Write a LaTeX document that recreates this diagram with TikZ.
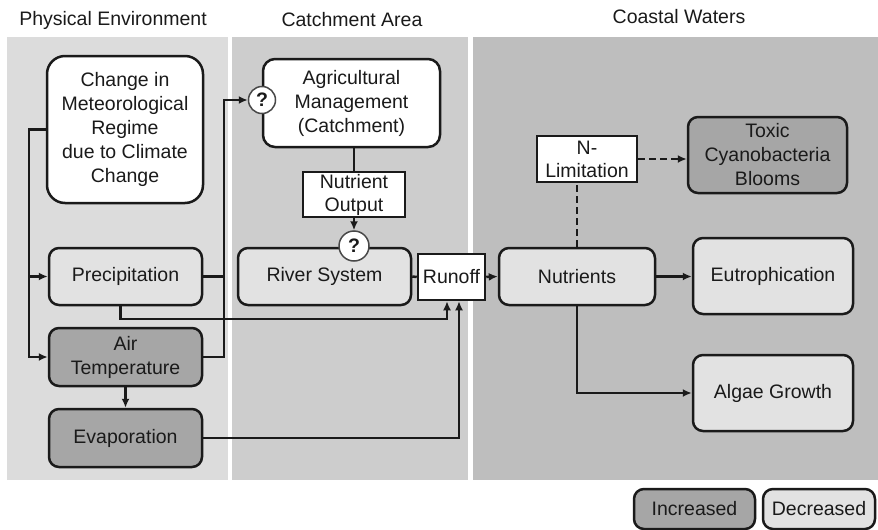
\documentclass[tikz,border=0pt]{standalone}
\usepackage{fontspec}
\setmainfont{Liberation Sans}
\usetikzlibrary{arrows.meta}
\definecolor{panA}{HTML}{DCDCDC}
\definecolor{panB}{HTML}{CDCDCD}
\definecolor{panC}{HTML}{BEBEBE}
\definecolor{lightbox}{HTML}{E2E2E2}
\definecolor{darkbox}{HTML}{A6A6A6}
\definecolor{ink}{HTML}{1A1A1A}
\begin{document}
\begin{tikzpicture}[x=1pt,y=-1pt,
  font=\fontsize{19.5}{24}\selectfont,
  box/.style={draw=ink, line width=2.5pt, rounded corners=10pt, align=center, inner sep=0pt, text=ink},
  lbox/.style={box, fill=lightbox},
  dbox/.style={box, fill=darkbox},
  whbox/.style={box, fill=white},
  sqbox/.style={draw=ink, line width=2.5pt, fill=white, align=center, inner sep=0pt, text=ink, font=\fontsize{19.5}{23}\selectfont},
  qc/.style={circle, draw=ink!80, line width=1.5pt, fill=white, inner sep=0pt, text=ink, font=\fontsize{19.5}{23}\selectfont\bfseries},
  conn/.style={draw=ink, line width=2.5pt},
  arr/.style={conn, -{Latex[length=9pt,width=8pt]}},
  ttl/.style={text=ink, inner sep=0pt}
]
\useasboundingbox (0,0) rectangle (878,530);
% panels
\fill[panA] (7,37) rectangle (228,480);
\fill[panB] (232,37) rectangle (468,480);
\fill[panC] (473,37) rectangle (878,480);
% titles
\node[ttl] (t1) at (113,20) {Physical Environment};
\node[ttl] (t2) at (352,20) {Catchment Area};
\node[ttl] (t3) at (679,17) {Coastal Waters};
% nodes
\node[whbox, rounded corners=18pt, minimum width=156pt, minimum height=147pt] (chg) at (125,129.5) {Change in\\Meteorological\\Regime\\due to Climate\\Change};
\node[lbox, minimum width=153pt, minimum height=57pt] (prec) at (125.5,276.5) {Precipitation};
\node[dbox, minimum width=153pt, minimum height=58pt] (air) at (125.5,357) {Air\\Temperature};
\node[dbox, minimum width=153pt, minimum height=58pt] (evap) at (125.5,438) {Evaporation};
\node[whbox, rounded corners=12pt, minimum width=177pt, minimum height=88pt] (agri) at (351.5,103) {Agricultural\\Management\\(Catchment)};
\node[sqbox, minimum width=102pt, minimum height=45pt] (nout) at (354,194.5) {Nutrient\\Output};
\node[lbox, minimum width=173pt, minimum height=57pt] (river) at (324.5,276.5) {River System};
\node[qc, minimum size=27pt] (q1) at (262,100) {?};
\node[qc, minimum size=30pt] (q2) at (354,246) {?};
\node[sqbox, minimum width=67pt, minimum height=46pt] (runoff) at (451.5,277) {Runoff};
\node[lbox, minimum width=156pt, minimum height=57pt] (nutr) at (577,276.5) {Nutrients};
\node[lbox, minimum width=160pt, minimum height=76pt] (eut) at (773,276) {Eutrophication};
\node[lbox, minimum width=160pt, minimum height=76pt] (alg) at (773,393) {Algae Growth};
\node[sqbox, minimum width=100pt, minimum height=46pt] (nlim) at (587,159) {N-\\Limitation};
\node[dbox, minimum width=159pt, minimum height=76pt] (tox) at (767.5,155) {Toxic\\Cyanobacteria\\Blooms};
\node[dbox, minimum width=121pt, minimum height=40pt] (inc) at (694.5,509) {Increased};
\node[lbox, minimum width=112pt, minimum height=40pt] (dec) at (819,509) {Decreased};
% bend coordinates
\coordinate (lx) at (29,0);
\coordinate (rx) at (224,0);
\coordinate (ra) at (447,319);
\coordinate (rb) at (459,0);
% connectors
\draw[arr] (chg.west) -| (lx |- air.west) -- (air.west);
\draw[arr] (lx |- prec.west) -- (prec.west);
\draw[arr] (air.east) -| (rx |- q1.west) -- (q1.west);
\draw[conn] (prec.east) -- (rx |- prec.east);
\draw[arr] (air.south) -- (evap.north);
\draw[conn] (agri.south -| nout.north) -- (nout.north);
\draw[arr] (nout.south) -- (q2.north);
\draw[conn] (river.east) -- (runoff.west);
\draw[arr] ([xshift=-5pt]prec.south) |- (ra) -- (ra |- runoff.south);
\draw[arr] (evap.east) -| (rb |- runoff.south);
\draw[arr] (runoff.east) -- (nutr.west);
\draw[arr] (nutr.east) -- (nutr.east -| eut.west);
\draw[arr] (nutr.south) |- (alg.west);
\draw[conn, dash pattern=on 7pt off 4pt] (nutr.north) -- (nutr.north |- nlim.south);
\draw[arr, dash pattern=on 7pt off 4pt] (nlim.east) -- (nlim.east -| tox.west);
\end{tikzpicture}
\end{document}
